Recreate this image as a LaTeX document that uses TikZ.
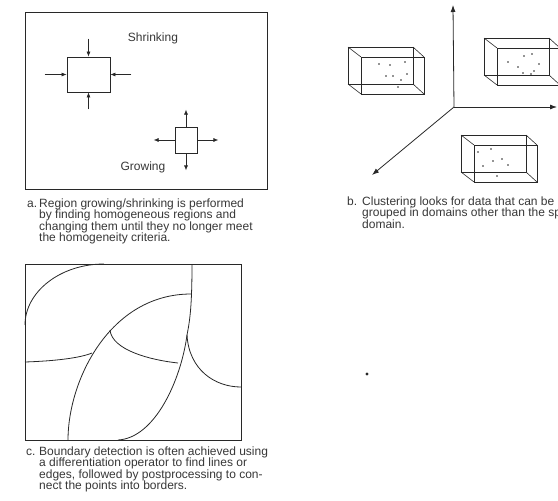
\documentclass[tikz,border=0pt]{standalone}
\usepackage{fontspec}
\setmainfont{Liberation Sans}
\usetikzlibrary{arrows.meta,positioning}
\definecolor{ScanInk}{RGB}{40,40,40}
\definecolor{ScanText}{RGB}{55,55,55}
\tikzset{
  fig/frame/.style={
    draw=ScanInk,
    line width=0.8pt,
    inner sep=0pt,
    anchor=north west
  },
  fig/box/.style={
    draw=ScanInk,
    line width=0.8pt,
    inner sep=0pt
  },
  fig/arrow/.style={-{Latex[length=5pt,width=4pt]}, line width=0.7pt, draw=ScanInk},
  fig/axis/.style={-{Latex[length=7pt,width=5pt]}, line width=0.8pt, draw=ScanInk},
  fig/wire/.style={draw=ScanInk, line width=0.6pt},
  fig/edge/.style={draw=ScanInk, line width=0.8pt},
  fig/label/.style={font=\fontsize{12}{12}\selectfont, text=ScanText, inner sep=0pt},
  fig/caption/.style={font=\fontsize{12}{11.6}\selectfont, text=ScanText, align=left, inner sep=0pt, anchor=base west},
  fig/dot/.style={fill=ScanInk}
}

\begin{document}
\begin{tikzpicture}[x=1pt,y=-1pt]
  \useasboundingbox (0,0) rectangle (558,501);
  \clip (0,0) rectangle (558,501);

  % a. region growing / shrinking
  \node[fig/frame, minimum width=242pt, minimum height=177pt] (frameA) at (25,12) {};
  \node[fig/label] (shrinklbl) at (153,38) {Shrinking};
  \node[fig/label] (growlbl) at (143,167) {Growing};
  \node[fig/box, minimum width=43pt, minimum height=35pt] (shrink) at (88.5,74.5) {};
  \coordinate[above=18pt of shrink.north] (shrinkN);
  \coordinate[below=17pt of shrink.south] (shrinkS);
  \coordinate[left=22pt of shrink.west] (shrinkW);
  \coordinate[right=21pt of shrink.east] (shrinkE);
  \draw[fig/arrow] (shrinkN) -- (shrink.north);
  \draw[fig/arrow] (shrinkS) -- (shrink.south);
  \draw[fig/arrow] (shrinkW) -- (shrink.west);
  \draw[fig/arrow] (shrinkE) -- (shrink.east);
  \node[fig/box, minimum width=22pt, minimum height=26pt] (grow) at (186,140) {};
  \coordinate[above=17pt of grow.north] (growN);
  \coordinate[below=17pt of grow.south] (growS);
  \coordinate[left=21pt of grow.west] (growW);
  \coordinate[right=21pt of grow.east] (growE);
  \draw[fig/arrow] (grow.north) -- (growN);
  \draw[fig/arrow] (grow.south) -- (growS);
  \draw[fig/arrow] (grow.west) -- (growW);
  \draw[fig/arrow] (grow.east) -- (growE);
  % caption nodes sit on the baseline of their last line
  \node[fig/caption] (tagA) at (27,207) {a.};
  \node[fig/caption] (capA) at (39,241.8) {Region growing/shrinking is performed\\
    by finding homogeneous regions and\\
    changing them until they no longer meet\\
    the homogeneity criteria.};

  % b. clustering in feature space
  \coordinate (origin) at (454,107);
  \coordinate (axisUp) at (453,5);
  \coordinate (axisRight) at (557,107);
  \coordinate (axisDiag) at (372,175);
  \draw[fig/axis] (origin) -- (axisUp);
  \draw[fig/axis] (origin) -- (axisRight);
  \draw[fig/axis] (origin) -- (axisDiag);
  \foreach \bx/\by in {348/47, 484/38, 461/135} {
    \draw[fig/wire] (\bx,\by) rectangle ++(65,37);
    \draw[fig/edge] (\bx+13,\by+10) rectangle ++(63,37);
    \draw[fig/wire] (\bx,\by) -- ++(13,10) (\bx+65,\by) -- ++(11,10)
      (\bx,\by+37) -- ++(13,10) (\bx+65,\by+37) -- ++(11,10);
  }
  \foreach \px/\py in {379/64, 390/65, 405/62, 386/76, 393/76, 407/74, 401/80, 398/87,
                       508/62, 524/56, 532/54, 518/67, 539/64, 534/71, 523/73, 531/74,
                       478/152, 491/149, 493/161, 502/159, 483/166, 508/165, 497/176}
    \fill[fig/dot] (\px,\py) circle (0.9);
  \node[fig/caption] (tagB) at (347,205) {b.};
  \node[fig/caption] (capB) at (362,228.2) {Clustering looks for data that can be\\
    grouped in domains other than the spatial\\
    domain.};

  % c. boundary detection
  \node[fig/frame, minimum width=216pt, minimum height=176pt] (frameC) at (25,264) {};
  \draw[fig/edge] (25,325) .. controls (25,292) and (60,264) .. (104,264);
  \draw[fig/edge] (192,264) .. controls (192,305) and (190,320) .. (187,335)
    .. controls (181,380) and (155,438) .. (118,440);
  \draw[fig/edge] (68,440) .. controls (68,380) and (110,294) .. (191,294);
  \draw[fig/edge] (25,362) .. controls (55,361) and (80,358) .. (92,353);
  \draw[fig/edge] (110,330) .. controls (112,350) and (150,360) .. (178,363);
  \draw[fig/edge] (187,335) .. controls (189,370) and (215,387) .. (241,387);
  \node[fig/caption] (tagC) at (26,455) {c.};
  \node[fig/caption] (capC) at (39,489.8) {Boundary detection is often achieved using\\
    a differentiation operator to find lines or\\
    edges, followed by postprocessing to con-\\
    nect the points into borders.};

  % stray mark on the page
  \fill[fig/dot] (367,374) circle (1.6);
\end{tikzpicture}
\end{document}
